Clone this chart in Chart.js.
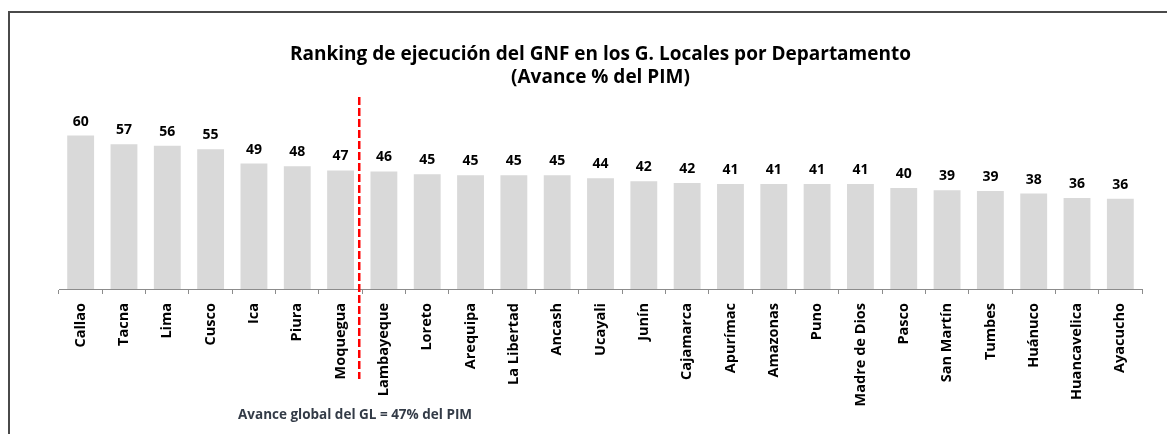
<!DOCTYPE html>
<html lang="es">
<head>
<meta charset="UTF-8">
<title>Ranking GNF | Gobiernos Locales</title>
<script src="https://cdn.jsdelivr.net/npm/chart.js"></script>
<style>
    body { margin: 0; background: #fff; overflow: hidden; }
    .lienzo { position: relative; width: 1167px; height: 434px; overflow: hidden; }
    .marco { position: absolute; left: 8px; top: 11px; width: 1300px; height: 600px; border: 2px solid #4a4a4a; }
    canvas { position: absolute; left: 0; top: 0; }
    .nota { position: absolute; left: 238px; top: 405px; font: bold 13.5px 'Open Sans'; color: #333b47; }
</style>
</head>
<body>

<div class="lienzo">
    <div class="marco"></div>
    <canvas id="graficoRanking" width="1167" height="434"></canvas>
    <div class="nota">Avance global del GL = 47% del PIM</div>
</div>

<script>
    // datos
    const departamentos = ['Callao', 'Tacna', 'Lima', 'Cusco', 'Ica', 'Piura', 'Moquegua', 'Lambayeque', 'Loreto',
        'Arequipa', 'La Libertad', 'Ancash', 'Ucayali', 'Junín', 'Cajamarca', 'Apurímac', 'Amazonas', 'Puno',
        'Madre de Dios', 'Pasco', 'San Martín', 'Tumbes', 'Huánuco', 'Huancavelica', 'Ayacucho'];
    const avance = [60.4, 57.0, 56.4, 55.0, 49.4, 48.3, 46.7, 46.3, 45.2,
        44.8, 44.8, 44.8, 43.6, 42.4, 41.7, 41.3, 41.3, 41.3,
        41.3, 39.8, 38.9, 38.6, 37.6, 35.8, 35.5];
    const corteEn = 'Moquegua';   // linea roja = avance global
    const titulo = ['Ranking de ejecución del GNF en los G. Locales por Departamento', '(Avance % del PIM)'];

    // etiquetas de valor encima de cada barra
    const etiquetas = {
        id: 'etiquetas',
        afterDatasetsDraw(chart) {
            const ctx = chart.ctx;
            const meta = chart.getDatasetMeta(0);
            ctx.save();
            ctx.font = "bold 14px 'Open Sans'";
            ctx.fillStyle = '#000';
            ctx.textAlign = 'center';
            ctx.textBaseline = 'alphabetic';
            meta.data.forEach((barra, i) => {
                ctx.fillText(Math.round(avance[i]), barra.x, barra.y - 10);
            });
            ctx.restore();
        }
    };

    // linea roja discontinua despues de Moquegua
    const lineaCorte = {
        id: 'lineaCorte',
        afterDraw(chart) {
            const ctx = chart.ctx;
            const x = chart.scales.x;
            const i = departamentos.indexOf(corteEn);
            const px = (x.getPixelForValue(i) + x.getPixelForValue(i + 1)) / 2 - 3;
            ctx.save();
            ctx.strokeStyle = '#ff0000';
            ctx.lineWidth = 2.5;
            ctx.setLineDash([8, 3]);
            ctx.beginPath();
            ctx.moveTo(px, chart.chartArea.top + 1);
            ctx.lineTo(px, chart.chartArea.bottom + 90);
            ctx.stroke();
            ctx.restore();
        }
    };

    new Chart(document.getElementById('graficoRanking').getContext('2d'), {
        type: 'bar',
        data: {
            labels: departamentos,
            datasets: [{
                data: avance,
                backgroundColor: '#d9d9d9',
                borderWidth: 0,
                categoryPercentage: 1,
                barPercentage: 0.62
            }]
        },
        options: {
            responsive: false,
            animation: false,
            layout: { padding: { left: 59, right: 25, top: 0, bottom: 0 } },
            plugins: {
                legend: { display: false },
                tooltip: { enabled: false },
                title: {
                    display: true,
                    text: titulo,
                    color: '#000',
                    font: { family: 'Open Sans', size: 19, weight: 'bold', lineHeight: 1.21 },
                    padding: { top: 43, bottom: 7 }
                }
            },
            scales: {
                x: {
                    grid: { display: true, drawOnChartArea: false, drawTicks: true, tickLength: 5, color: '#8c8c8c', offset: true },
                    border: { color: '#8c8c8c', width: 1 },
                    ticks: {
                        minRotation: 90,
                        maxRotation: 90,
                        autoSkip: false,
                        color: '#000',
                        padding: 9,
                        font: { family: 'Open Sans', size: 14.5, weight: 'bold' }
                    },
                    afterFit(scale) { scale.height = 145; }
                },
                y: { display: false, min: 0, max: 76 }
            }
        },
        plugins: [etiquetas, lineaCorte]
    });
</script>

</body>
</html>
